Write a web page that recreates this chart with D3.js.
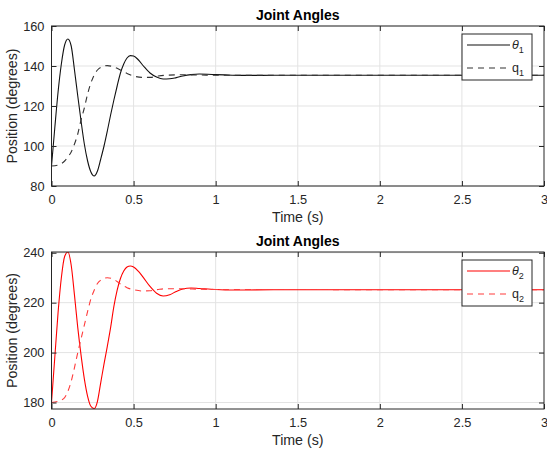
<!DOCTYPE html>
<html lang="en">
<head>
<meta charset="utf-8">
<script src="https://d3js.org/d3.v7.min.js"></script>
<style>
  body { margin: 0; background: #fff; }
  svg { display: block; font-family: "Liberation Sans", Arial, sans-serif; }
  .tick-label { font-size: 12.8px; fill: #262626; }
  .axis-label { font-size: 14.2px; fill: #262626; }
  .title { font-size: 14px; font-weight: bold; fill: #000; }
  .legend-text { font-size: 12.5px; fill: #262626; }
</style>
</head>
<body>
<script>
// ---- data ----
var xTicks = [0, 0.5, 1, 1.5, 2, 2.5, 3];
var y1Ticks = [80, 100, 120, 140, 160];
var y2Ticks = [180, 200, 220, 240];

var tTheta1 = [0, 0.02, 0.04, 0.06, 0.08, 0.10, 0.12, 0.14, 0.16, 0.18, 0.20, 0.22, 0.24, 0.26, 0.28, 0.30, 0.32, 0.34, 0.36, 0.38, 0.40, 0.42, 0.44, 0.46, 0.48, 0.50, 0.53, 0.56, 0.60, 0.64, 0.68, 0.72, 0.76, 0.80, 0.85, 0.90, 0.95, 1.0, 1.1, 1.2, 1.5, 2, 3];
var theta1 = [90, 109, 127, 141, 150.5, 153.5, 150, 138, 125, 112.5, 101, 92.5, 87, 85, 87.5, 93.5, 100, 107.5, 115.5, 123, 130, 136.5, 141, 144, 145.2, 145, 143, 140, 136.5, 134.5, 133.5, 133.6, 134.2, 135, 135.7, 136, 135.9, 135.7, 135.4, 135.3, 135.4, 135.4, 135.4];

var tQ1 = [0, 0.04, 0.08, 0.10, 0.12, 0.14, 0.16, 0.18, 0.20, 0.22, 0.24, 0.26, 0.28, 0.30, 0.34, 0.38, 0.42, 0.46, 0.50, 0.55, 0.60, 0.65, 0.70, 0.80, 0.90, 1.0, 3];
var q1 = [90, 90.5, 92.5, 94.5, 97, 101, 106, 113, 119, 126, 131.5, 135.5, 138, 139.3, 140.2, 139.5, 138, 136.3, 135, 134.3, 134.3, 135, 135.4, 135.6, 135.5, 135.4, 135.4];

var tTheta2 = [0, 0.02, 0.04, 0.06, 0.08, 0.10, 0.12, 0.14, 0.16, 0.18, 0.20, 0.22, 0.24, 0.26, 0.28, 0.30, 0.32, 0.34, 0.36, 0.38, 0.40, 0.42, 0.44, 0.46, 0.48, 0.50, 0.53, 0.56, 0.60, 0.64, 0.68, 0.72, 0.76, 0.80, 0.85, 0.90, 1.0, 1.1, 1.2, 1.5, 3];
var theta2 = [180, 198, 216, 230, 238.5, 240.3, 235, 223, 210, 199, 189.5, 182.5, 178.5, 177.6, 180.5, 188, 195.5, 202.5, 210, 218.5, 225, 229.7, 232.7, 234.3, 234.7, 234.3, 232.5, 230, 226.5, 223.8, 222.7, 223.2, 224.5, 225.5, 225.9, 225.7, 225.3, 225.1, 225.1, 225.2, 225.2];

var tQ2 = [0, 0.04, 0.08, 0.10, 0.12, 0.14, 0.16, 0.18, 0.20, 0.22, 0.24, 0.26, 0.28, 0.30, 0.34, 0.38, 0.42, 0.46, 0.50, 0.55, 0.60, 0.65, 0.70, 0.80, 0.90, 1.0, 3];
var q2 = [180, 180.5, 182, 184.5, 188.5, 194, 200, 205.5, 211, 216.5, 221.5, 225, 227.7, 229, 230, 229.3, 227.5, 226, 225.2, 224.7, 224.8, 225.3, 225.6, 225.6, 225.4, 225.3, 225.2];

var width = 547, height = 455;
var left = 51.5, right = 544;

var svg = d3.select("body").append("svg")
    .attr("width", width)
    .attr("height", height);

var x = d3.scaleLinear().domain([0, 3]).range([left, right]);

function zip(ts, vs) {
    return ts.map(function(t, i) { return [t, vs[i]]; });
}

function panel(id, top, bottom, yDomain, yTicks, series, legendTop) {
    var y = d3.scaleLinear().domain(yDomain).range([bottom, top]);
    var g = svg.append("g");

    g.append("clipPath").attr("id", "clip" + id)
        .append("rect")
        .attr("x", left).attr("y", top)
        .attr("width", right - left).attr("height", bottom - top);

    // grid
    g.selectAll(".gx").data(xTicks.slice(1, -1)).enter().append("line")
        .attr("x1", function(d) { return x(d); }).attr("x2", function(d) { return x(d); })
        .attr("y1", top).attr("y2", bottom)
        .attr("stroke", "#e3e3e3").attr("stroke-width", 1);
    g.selectAll(".gy").data(yTicks).enter().append("line")
        .attr("x1", left).attr("x2", right)
        .attr("y1", function(d) { return y(d); }).attr("y2", function(d) { return y(d); })
        .attr("stroke", "#e3e3e3").attr("stroke-width", 1);

    // curves
    var line = d3.line()
        .x(function(d) { return x(d[0]); })
        .y(function(d) { return y(d[1]); })
        .curve(d3.curveMonotoneX);

    series.forEach(function(s) {
        g.append("path")
            .attr("clip-path", "url(#clip" + id + ")")
            .attr("d", line(zip(s.t, s.v)))
            .attr("fill", "none")
            .attr("stroke", s.color)
            .attr("stroke-width", 1.1)
            .attr("stroke-dasharray", s.dash ? "6,5" : null);
    });

    // axes (box with inward ticks on all sides)
    var axisColor = "#262626";
    var bottomAxis = d3.axisBottom(x).tickValues(xTicks).tickSize(-5).tickFormat(d3.format("~g"));
    var topAxis = d3.axisTop(x).tickValues(xTicks).tickSize(-5).tickFormat("");
    var leftAxis = d3.axisLeft(y).tickValues(yTicks).tickSize(-5).tickFormat(d3.format("d"));
    var rightAxis = d3.axisRight(y).tickValues(yTicks).tickSize(-5).tickFormat("");

    function style(sel) {
        sel.select(".domain").remove();
        sel.selectAll("line").attr("stroke", axisColor);
        sel.selectAll("text").attr("class", "tick-label").attr("fill", axisColor);
        sel.attr("font-family", null).attr("font-size", null);
    }

    g.append("g").attr("transform", "translate(0," + bottom + ")").call(bottomAxis)
        .call(style).selectAll("text").attr("dy", null).attr("y", 18);
    g.append("g").attr("transform", "translate(0," + top + ")").call(topAxis).call(style);
    g.append("g").attr("transform", "translate(" + left + ",0)").call(leftAxis)
        .call(style).selectAll("text").attr("x", -7);
    g.append("g").attr("transform", "translate(" + right + ",0)").call(rightAxis).call(style);

    g.append("rect")
        .attr("x", left).attr("y", top)
        .attr("width", right - left).attr("height", bottom - top)
        .attr("fill", "none").attr("stroke", axisColor).attr("stroke-width", 1);

    // labels
    g.append("text").attr("class", "title")
        .attr("x", (left + right) / 2).attr("y", top - 6.5)
        .attr("text-anchor", "middle").text("Joint Angles");
    g.append("text").attr("class", "axis-label")
        .attr("x", (left + right) / 2).attr("y", bottom + 35.5)
        .attr("text-anchor", "middle").text("Time (s)");
    g.append("text").attr("class", "axis-label")
        .attr("transform", "translate(17," + (top + bottom) / 2 + ") rotate(-90)")
        .attr("text-anchor", "middle").text("Position (degrees)");

    // legend
    var lx = 462, lw = 70, lh = 46;
    var lg = g.append("g").attr("transform", "translate(" + lx + "," + legendTop + ")");
    lg.append("rect").attr("width", lw).attr("height", lh)
        .attr("fill", "#fff").attr("stroke", axisColor).attr("stroke-width", 1);
    series.forEach(function(s, i) {
        var ry = 11 + i * 23;
        lg.append("line")
            .attr("x1", 5).attr("x2", 48).attr("y1", ry).attr("y2", ry)
            .attr("stroke", s.color).attr("stroke-width", 1.1)
            .attr("stroke-dasharray", s.dash ? "6,5" : null);
        var t = lg.append("text").attr("class", "legend-text")
            .attr("x", 50).attr("y", ry + 4);
        t.append("tspan").attr("font-style", s.italic ? "italic" : null)
            .text(s.name);
        t.append("tspan").attr("dy", 4).attr("font-size", "9px").text(s.sub);
    });
}

panel(1, 26, 186, [80, 160], y1Ticks, [
    { t: tTheta1, v: theta1, color: "#111", dash: false, name: "\u03B8", sub: "1", italic: true },
    { t: tQ1, v: q1, color: "#333", dash: true, name: "q", sub: "1", italic: false }
], 34);

panel(2, 252, 409, [177.4, 240.3], y2Ticks, [
    { t: tTheta2, v: theta2, color: "#ff0000", dash: false, name: "\u03B8", sub: "2", italic: true },
    { t: tQ2, v: q2, color: "#ff3c3c", dash: true, name: "q", sub: "2", italic: false }
], 260);
</script>
</body>
</html>
